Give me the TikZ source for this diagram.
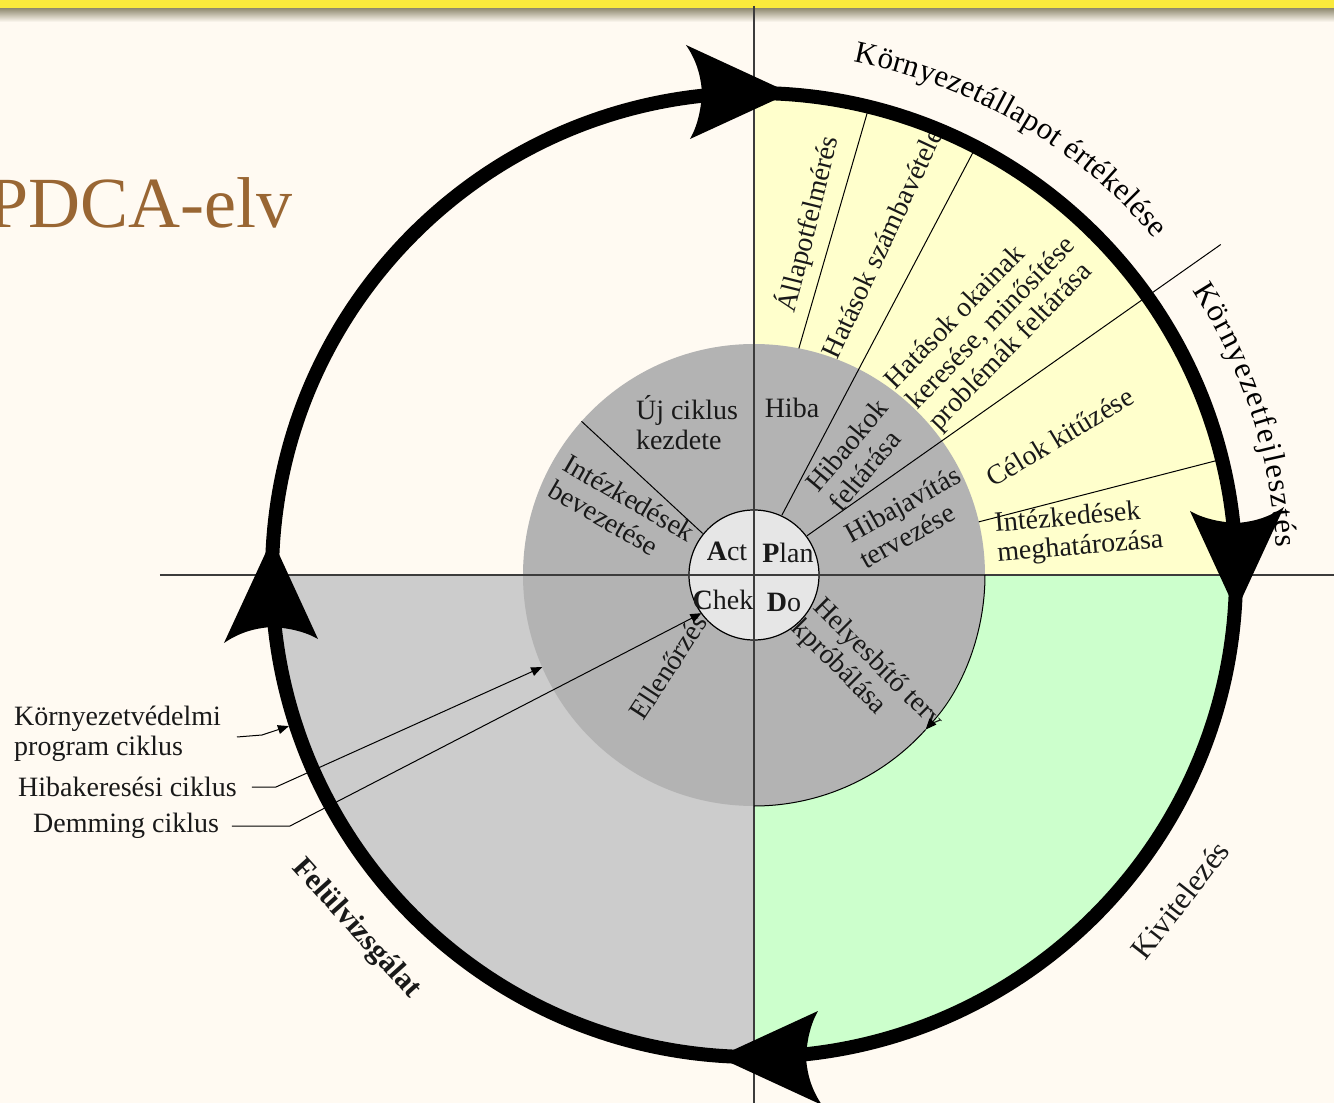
\documentclass[tikz,border=0pt]{standalone}
\usepackage{fontspec}
\setmainfont{Liberation Serif}
\usetikzlibrary{arrows.meta,decorations.text}
\definecolor{bgc}{RGB}{255,250,242}
\definecolor{bandyellow}{RGB}{250,234,60}
\definecolor{bandshadow}{RGB}{150,145,120}
\definecolor{qyellow}{RGB}{255,255,204}
\definecolor{qgreen}{RGB}{204,255,204}
\definecolor{qgray}{RGB}{204,204,204}
\definecolor{igray}{RGB}{179,179,179}
\definecolor{cgray}{RGB}{230,230,230}
\definecolor{txt}{RGB}{25,25,25}
\definecolor{axisgray}{RGB}{60,60,60}
\definecolor{titlebrown}{RGB}{153,102,51}
\newcommand{\pdcaouter}{\fontsize{31}{33}\selectfont}
\begin{document}
\begin{tikzpicture}[x=1pt,y=1pt,
  lbl/.style={font=\fontsize{28}{30}\selectfont, text=txt, inner sep=0pt, align=left},
  olbl/.style={font=\fontsize{31}{33}\selectfont, text=txt, inner sep=0pt},
  divline/.style={draw=black, line width=1pt},
  axisline/.style={draw=axisgray, line width=1.3pt},
  leader/.style={draw=black, line width=1pt},
  smallarrow/.style={-{Triangle[length=11pt,width=9pt]}},
  ring/.style={draw=black, line width=14pt},
  ahead/.style={fill=black}]
\useasboundingbox (-754,-528) rectangle (580,575);
\fill[bgc] (-754,-528) rectangle (580,575);
% top band
\fill[bandyellow] (-754,566) rectangle (580,575);
\shade[top color=bandshadow, bottom color=bgc] (-754,553) rectangle (580,566);
% title
\node[anchor=base west, inner sep=0pt, text=titlebrown, font=\fontsize{72}{72}\selectfont] (title) at (-766,347) {PDCA-elv};
% quadrant fills
\fill[qyellow] (0,0) -- (0:482) arc (0:90:482) -- cycle;
\fill[qgreen] (0,0) -- (0:482) arc (0:-90:482) -- cycle;
\fill[qgray] (0,0) -- (180:482) arc (180:270:482) -- cycle;
\fill[igray] (0,0) circle (231);
% radial dividers
\draw[divline] (78.8:231) -- (76.2:482);
\draw[divline] (65:66) -- (62.6:480);
\draw[divline] (36.5:66) -- (35.3:572);
\draw[divline] (13.3:231) -- (13.9:482);
\draw[divline] (141:66) -- (138.3:231);
% centre circle
\filldraw[fill=cgray, draw=black, line width=1.2pt] (0,0) circle (65);
% axes
\draw[axisline] (0,569) -- (0,-528);
\draw[axisline] (-594,0) -- (580,0);
% texts in the quadrants
\node[lbl, rotate=76] (allapot) at (54,351) {Állapotfelmérés};
\node[lbl, rotate=65] (szamba) at (128,332) {Hatások számbavétele};
\node[lbl, rotate=46] (okai) at (238,251) {Hatások okainak\\keresése, minősítése\\problémák feltárása};
\node[lbl, rotate=31] (celok) at (306,138) {Célok kitűzése};
\node[lbl, rotate=5] (intmeg) at (325,42) {Intézkedések\\meghatározása};
\node[lbl] (hiba) at (38,167) {Hiba};
\node[lbl, rotate=50] (hibaok) at (104,120) {Hibaokok\\feltárása};
\node[lbl, rotate=29] (hibajav) at (156,58) {Hibajavítás\\tervezése};
\node[lbl] (ujc) at (-67,152) {Új ciklus\\kezdete};
\node[lbl, rotate=-30] (intbev) at (-132,64) {Intézkedések\\bevezetése};
\node[lbl] (act) at (-27,24) {\textbf{A}ct};
\node[lbl] (plan) at (34,22) {\textbf{P}lan};
\node[lbl] (chek) at (-31,-25) {\textbf{C}hek};
\node[lbl] (do) at (30,-27) {\textbf{D}o};
\node[lbl, rotate=57] (ellen) at (-86,-92) {Ellenőrzés};
\node[lbl, rotate=-45] (helyes) at (113,-100) {Helyesbítő terv\\kpróbálása};
% outer labels
\node[olbl, rotate=52] (kivit) at (426,-325) {Kivitelezés};
\node[olbl, font=\fontsize{30}{32}\selectfont\bfseries, rotate=-48] (felul) at (-398,-354) {Felülvizsgálat};
\path[decorate, decoration={text along path, text={|\pdcaouter|Környezetállapot értékelése}, text align={fit to path}}] (79:523) arc (79:40:523);
\path[decorate, decoration={text along path, text={|\pdcaouter|Környezetfejlesztés}, text align={fit to path}}] (33:523) arc (33:3:523);
% left labels
\node[lbl, anchor=west] (kvp) at (-740,-159) {Környezetvédelmi\\program ciklus};
\node[lbl, anchor=west] (hib) at (-736,-212) {Hibakeresési ciklus};
\node[lbl, anchor=west] (dem) at (-721,-251) {Demming ciklus};
\coordinate (kvpA) at (-517,-162);
\coordinate (kvpB) at (-492,-160);
\coordinate (kvpT) at (198:489);
\coordinate (hibA) at (-502,-212);
\coordinate (hibB) at (-478,-212);
\coordinate (hibT) at (203.5:231);
\coordinate (demA) at (-522,-251);
\coordinate (demB) at (-464,-251);
\coordinate (demT) at (216:65);
\draw[leader, smallarrow] (kvpA) -- (kvpB) -- (kvpT);
\draw[leader, smallarrow] (hibA) -- (hibB) -- (hibT);
\draw[leader, smallarrow] (demA) -- (demB) -- (demT);
% thin inner arc with arrow
\draw[leader, smallarrow] (0:231) arc (0:-42:231);
\draw[leader] (-42:231) arc (-42:-90:231);
% outer ring and arrowheads
\draw[ring] (0,0) circle (482);
\foreach \a in {0,-90,-180,-270} {
  \fill[ahead, rotate=\a] (36,482) -- (-68,530) .. controls (-57,514) and (-53,498) .. (-52,482) .. controls (-53,466) and (-56,450) .. (-64,436) -- cycle;
}
\end{tikzpicture}
\end{document}
